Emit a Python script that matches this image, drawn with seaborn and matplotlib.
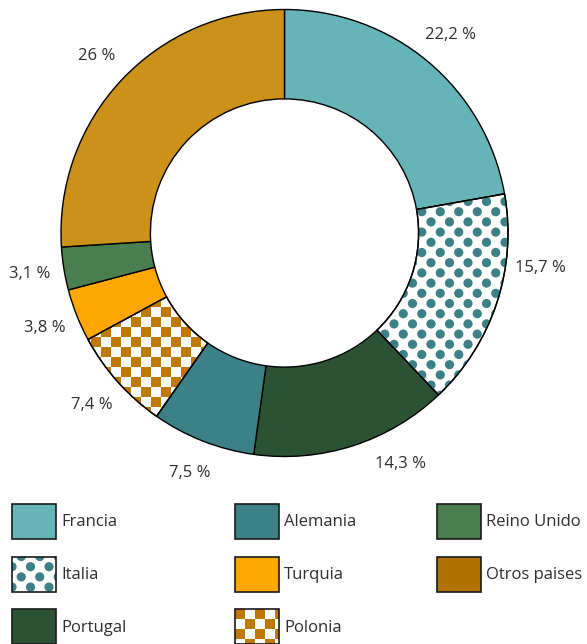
import numpy as np
import matplotlib
matplotlib.use("Agg")
import matplotlib.pyplot as plt
import seaborn as sns
from matplotlib.patches import Circle, Rectangle, Wedge
from matplotlib.collections import PatchCollection

# data
countries = ["Francia", "Italia", "Portugal", "Alemania", "Polonia",
             "Turquia", "Reino Unido", "Otros paises"]
shares = [22.2, 15.7, 14.3, 7.5, 7.4, 3.8, 3.1, 26]
legend_order = ["Francia", "Italia", "Portugal", "Alemania", "Turquia",
                "Polonia", "Reino Unido", "Otros paises"]

colors = {
    "Francia": "#66b4b7",
    "Italia": "#3c8088",
    "Portugal": "#2c5234",
    "Alemania": "#3c8088",
    "Polonia": "#bf7800",
    "Turquia": "#fea700",
    "Reino Unido": "#4a7e4e",
    "Otros paises": "#cb9118",
}
legend_colors = dict(colors, **{"Otros paises": "#b37200"})
patterns = {"Italia": "dots", "Polonia": "checker"}
# small angle shift (deg) for some labels
label_shift = {"Italia": 10.4, "Portugal": 8.8}

sns.set_theme(style="white")
plt.rcParams['font.family'] = ['Open Sans', 'DejaVu Sans']
TXT = "#2e2e2e"
FS = 12

W, H = 587, 644
fig = plt.figure(figsize=(W / 100, H / 100), dpi=100)

# pie axes: radius 1 -> 223.5 px
R_PX = 223.5
cx, cy = 284.5, 233
ax = fig.add_axes([(cx - R_PX) / W, (H - cy - R_PX) / H, 2 * R_PX / W, 2 * R_PX / H])


def fill_pattern(axis, clip, kind, color, bounds, px):
    x0, x1, y0, y1 = bounds
    pats = []
    if kind == "dots":
        sx, sy, r = 18.5 * px, 10.2 * px, 4.6 * px
        for j, y in enumerate(np.arange(y0 - sy, y1 + sy, sy)):
            off = (sx / 2) if j % 2 else 0
            for x in np.arange(x0 - sx, x1 + sx, sx):
                pats.append(Circle((x + off, y), r))
    else:
        s = 10 * px
        for j, y in enumerate(np.arange(y0 - s, y1 + s, s)):
            for i, x in enumerate(np.arange(x0 - s, x1 + s, s)):
                if (i + j) % 2 == 0:
                    pats.append(Rectangle((x, y), s, s))
    pc = PatchCollection(pats, facecolor=color, edgecolor="none", zorder=2)
    axis.add_collection(pc)
    pc.set_clip_path(clip)


pie_cols = [("white" if c in patterns else colors[c]) for c in countries]
wedges, _ = ax.pie(shares, colors=pie_cols, startangle=90, counterclock=False,
                   radius=1, wedgeprops=dict(width=0.4, edgecolor="black", linewidth=1))
ax.set_xlim(-1, 1)
ax.set_ylim(-1, 1)
ax.set_aspect("equal")
ax.axis("off")

for w, c, v in zip(wedges, countries, shares):
    w.set_clip_on(False)
    w.set_zorder(1)
    if c in patterns:
        fill_pattern(ax, w, patterns[c], colors[c], (-1, 1, -1, 1), 1 / R_PX)
        ax.add_patch(Wedge((0, 0), 1, w.theta1, w.theta2, width=0.4,
                           facecolor="none", edgecolor="black",
                           linewidth=1, zorder=3, clip_on=False))
    mid = np.deg2rad((w.theta1 + w.theta2) / 2 + label_shift.get(c, 0))
    txt = f"{v:g}".replace(".", ",") + " %"
    ax.text(1.155 * np.cos(mid), 1.155 * np.sin(mid), txt, ha="center", va="center",
            fontsize=FS, color=TXT)

# legend drawn in pixel coords
lax = fig.add_axes([0, 0, 1, 1], zorder=-1)
lax.set_xlim(0, W)
lax.set_ylim(H, 0)
lax.axis("off")
col_x = [12, 235, 437]
row_y = [504, 556.5, 609]
bw, bh = 44, 35
for k, c in enumerate(legend_order):
    x = col_x[k // 3]
    y = row_y[k % 3]
    fc = "white" if c in patterns else legend_colors[c]
    rect = Rectangle((x, y), bw, bh, facecolor=fc, edgecolor="none", zorder=1)
    lax.add_patch(rect)
    if c in patterns:
        fill_pattern(lax, rect, patterns[c], colors[c], (x, x + bw, y, y + bh), 1)
    lax.add_patch(Rectangle((x, y), bw, bh, facecolor="none", edgecolor="#1a1a1a",
                            linewidth=1.2, zorder=3))
    lax.text(x + bw + 5, y + bh / 2 + 1, c, ha="left", va="center", fontsize=FS, color=TXT)

fig.savefig("out.png", dpi=100)
